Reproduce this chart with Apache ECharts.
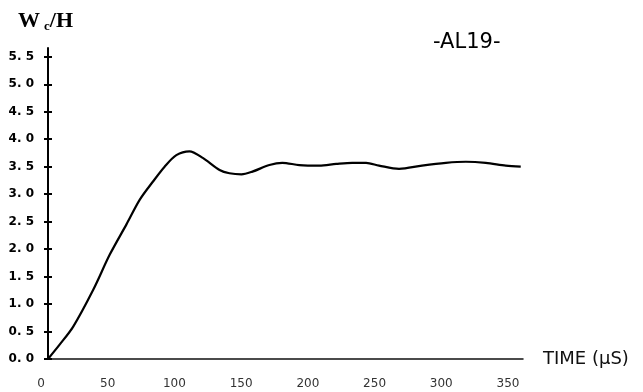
<!DOCTYPE html>
<html>
<head>
<meta charset="utf-8">
<script src="https://cdn.jsdelivr.net/npm/echarts@6/dist/echarts.min.js"></script>
<style>
  html, body { margin: 0; padding: 0; background: #fff; }
  #chart { width: 643px; height: 392px; }
</style>
</head>
<body>
<div id="chart"></div>
<script>
// values
const timeUs = [0, 9, 18.9, 33.9, 46.3, 58.8, 68.8, 78.7, 87.4, 96.2, 106, 116, 128.6, 136, 145, 153.2, 165.9, 175.6, 188.3, 203.3, 216, 228, 238.4, 248.1, 263.1, 280.3, 298.2, 313.2, 328.1, 343.1, 354.3];
const wcOverH = [0, 0.27, 0.59, 1.26, 1.90, 2.45, 2.90, 3.23, 3.50, 3.71, 3.78, 3.66, 3.44, 3.38, 3.36, 3.41, 3.53, 3.57, 3.53, 3.52, 3.55, 3.57, 3.57, 3.52, 3.46, 3.52, 3.57, 3.59, 3.57, 3.52, 3.50];
const xTicks = [0, 50, 100, 150, 200, 250, 300, 350];
const yTicks = [0, 0.5, 1, 1.5, 2, 2.5, 3, 3.5, 4, 4.5, 5, 5.5];

const chart = echarts.init(document.getElementById("chart"));

const yMax = 5.66;

const option = {
  animation: false,
  grid: { left: 48, right: 120, top: 48, bottom: 33 },
  graphic: [
    {
      type: "text",
      left: 18,
      top: 10,
      style: {
        text: "{w|W}{s|c}{w|/H}",
        rich: {
          w: { fontFamily: "Liberation Serif", fontWeight: "bold", fontSize: 22, fill: "#000" },
          s: { fontFamily: "Liberation Serif", fontWeight: "bold", fontSize: 13, fill: "#000", padding: [12, 0, 0, 4] },
        },
      },
    },
    {
      type: "text",
      left: 433,
      top: 32,
      style: {
        text: "-AL19-",
        fontFamily: "DejaVu Sans",
        fontSize: 21,
        fill: "#000",
      },
    },
  ],
  xAxis: {
    type: "value",
    min: 0,
    max: 356,
    name: "TIME (μS)",
    nameLocation: "end",
    nameGap: 20,
    nameTextStyle: { fontFamily: "DejaVu Sans", fontSize: 18, color: "#111", verticalAlign: "middle" },
    axisLine: { show: true, lineStyle: { color: "#111", width: 1.5 } },
    axisTick: { show: false },
    splitLine: { show: false },
    axisLabel: {
      customValues: xTicks,
      margin: 19,
      fontFamily: "DejaVu Sans",
      fontSize: 12,
      color: "#333",
      padding: [0, 14, 0, 0],
    },
  },
  yAxis: [
    {
      type: "value",
      min: 0,
      max: yMax,
      axisLine: { show: true, lineStyle: { color: "#000", width: 2 } },
      axisTick: { show: true, customValues: yTicks, length: 4, lineStyle: { color: "#000", width: 2 } },
      splitLine: { show: false },
      axisLabel: {
        customValues: yTicks,
        margin: 14,
        fontFamily: "DejaVu Sans",
        fontWeight: "bold",
        fontSize: 12,
        color: "#000",
        formatter: (v) => v.toFixed(1).replace(".", ". "),
      },
    },
    {
      type: "value",
      min: 0,
      max: yMax,
      position: "left",
      axisLine: { show: false },
      axisTick: { show: true, inside: true, customValues: yTicks, length: 4, lineStyle: { color: "#000", width: 2 } },
      axisLabel: { show: false },
      splitLine: { show: false },
    },
  ],
  series: [
    {
      type: "line",
      data: timeUs.map((t, i) => [t, wcOverH[i]]),
      smooth: 0.3,
      showSymbol: false,
      lineStyle: { color: "#000", width: 2.2 },
    },
  ],
};

chart.setOption(option);
</script>
</body>
</html>
